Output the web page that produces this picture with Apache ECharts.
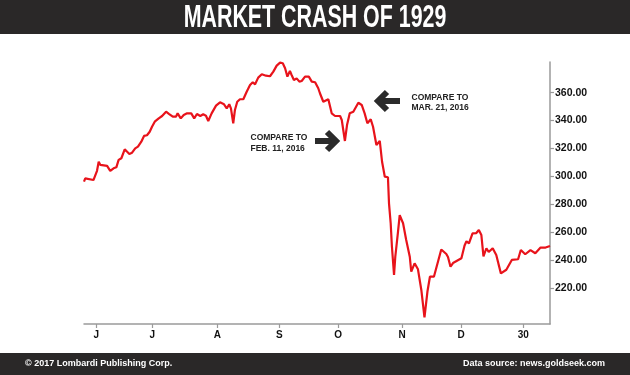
<!DOCTYPE html>
<html>
<head>
<meta charset="utf-8">
<script src="https://cdn.jsdelivr.net/npm/echarts@6/dist/echarts.min.js"></script>
<style>
  html, body { margin: 0; padding: 0; background: #fff; }
  #crash-container { width: 630px; height: 375px; }
</style>
</head>
<body>
<div id="crash-container"></div>
<script>
// trading-day index along the x axis (Jun - Dec 1929)
const days = [0, 0.6, 1.4, 4.5, 6.2, 7.0, 7.8, 11.0, 12.5, 14.1, 15.4, 16.5, 17.8, 19.4, 20.2, 21.6, 22.9, 24.4, 25.7, 27.3,
  28.6, 30.0, 31.3, 32.4, 33.7, 35.6, 37.2, 39.1, 40.6, 42.3, 43.8, 44.6, 46.1, 47.5, 49.1, 51.1, 52.5, 53.8, 55.4, 56.8,
  58.1, 59.2, 60.8, 62.9, 64.8, 66.7, 68.0, 69.2, 70.0, 71.1, 71.9, 73.0, 74.3, 75.9, 77.5, 79.1, 80.4, 81.5, 83.0, 84.7,
  86.7, 88.6, 90.2, 91.8, 93.4, 94.7, 95.8, 96.9, 98.1, 98.9, 100.0, 101.3, 102.6, 103.7, 105.3, 106.1, 107.1, 108.5, 110.1, 111.6,
  112.4, 114.0, 116.4, 118.0, 119.6, 122.0, 122.8, 124.3, 125.3, 126.6, 128.3, 130.7, 132.3, 133.7, 135.0, 136.6, 137.7, 139.3, 140.9, 142.0,
  143.3, 144.8, 145.3, 146.1, 146.7, 147.7, 148.3, 149.6, 150.4, 152.0, 153.5, 155.2, 155.9, 157.5, 159.1, 160.7, 162.2, 163.6, 164.8, 166.7,
  170.2, 172.6, 173.4, 174.6, 175.8, 179.8, 181.3, 182.2, 183.4, 185.1, 186.9, 188.1, 189.3, 190.3, 191.7, 192.8, 194.7, 196.4, 198.6, 201.2,
  203.8, 206.8, 208.1, 210.2, 212.7, 215.0, 217.5, 219.9, 222.0]
// Dow Jones Industrial Average close
const closes = [296.2, 298.6, 297.4, 297.4, 304.0, 310.5, 308.2, 307.5, 303.9, 305.8, 306.5, 311.8, 313.0, 319.4, 318.9, 316.1, 317.0, 320.1, 321.3, 324.9,
  329.0, 329.5, 332.0, 335.6, 339.2, 341.6, 343.3, 346.4, 344.7, 342.8, 342.8, 345.2, 341.6, 344.0, 345.2, 345.2, 341.6, 344.7, 343.3, 344.5,
  343.5, 339.7, 345.2, 350.7, 353.1, 351.7, 348.8, 351.7, 348.8, 338.1, 347.6, 353.5, 355.3, 355.3, 360.7, 365.5, 367.5, 366.0, 370.8, 373.2,
  372.2, 371.8, 375.1, 379.4, 381.5, 381.1, 377.5, 371.5, 375.6, 372.7, 369.1, 370.3, 367.9, 368.4, 371.5, 370.3, 371.5, 367.9, 367.5, 363.2,
  359.6, 353.5, 355.3, 345.2, 343.3, 343.3, 340.4, 325.4, 336.8, 345.2, 346.4, 352.8, 351.2, 345.2, 338.1, 340.9, 335.6, 322.5, 325.4, 310.5,
  299.8, 299.4, 280.7, 266.4, 249.6, 229.3, 242.4, 260.4, 272.3, 266.4, 254.4, 242.4, 231.7, 237.7, 233.4, 218.6, 198.9, 217.3, 228.1, 228.1,
  247.6, 244.4, 242.2, 235.3, 237.9, 241.3, 250.5, 253.5, 252.0, 259.2, 259.4, 261.6, 258.0, 242.6, 248.5, 245.8, 248.5, 243.7, 230.5, 233.1,
  240.1, 240.6, 247.2, 244.2, 247.2, 244.9, 249.0, 249.0, 250.1]

const monthTicks = [5.9, 32.5, 63.5, 93.0, 121.1, 151.6, 179.6, 209.3]
const monthLabels = ['J', 'J', 'A', 'S', 'O', 'N', 'D', '30']
const priceTicks = [220, 240, 260, 280, 300, 320, 340, 360]

const myChart = echarts.init(document.getElementById('crash-container'))

const axisColor = '#9a9a9a'
const labelFont = 'Liberation Sans, Arial, sans-serif'

function arrow (x1, x2, y, dir) {
  // shaft + chevron head, dir = 1 points right, -1 points left
  const tip = dir > 0 ? x2 : x1
  const back = tip - dir * 10
  return [
    {
      type: 'polyline',
      shape: { points: [[x1 + (dir < 0 ? 3 : 0), y], [x2 - (dir > 0 ? 3 : 0), y]] },
      style: { stroke: '#2b2b2b', lineWidth: 6, fill: null }
    },
    {
      type: 'polyline',
      shape: { points: [[back, y - 9], [tip - dir * 1, y], [back, y + 9]] },
      style: { stroke: '#2b2b2b', lineWidth: 6, fill: null, lineJoin: 'miter', lineCap: 'butt' }
    }
  ]
}

function note (x, y, lines) {
  return {
    type: 'text',
    x: x,
    y: y,
    style: {
      text: lines.join('\n'),
      fill: '#222',
      font: 'bold 8.5px ' + labelFont,
      lineHeight: 10.5,
      textAlign: 'left',
      textVerticalAlign: 'top'
    }
  }
}

const option = {
  animation: false,
  backgroundColor: '#fff',
  grid: {
    left: 84,
    right: 80,
    top: 62,
    bottom: 51,
    containLabel: false
  },
  xAxis: {
    type: 'value',
    min: 0,
    max: 222,
    splitLine: { show: false },
    axisLine: { onZero: false, lineStyle: { color: axisColor, width: 1.5 } },
    axisTick: {
      customValues: monthTicks,
      length: 4,
      lineStyle: { color: axisColor, width: 1.2 }
    },
    axisLabel: {
      customValues: monthTicks,
      margin: 6,
      color: '#111',
      fontFamily: labelFont,
      fontWeight: 'bold',
      fontSize: 10,
      formatter: function (v) {
        const i = monthTicks.findIndex(t => Math.abs(t - v) < 0.01)
        return i >= 0 ? monthLabels[i] : ''
      }
    }
  },
  yAxis: {
    type: 'value',
    position: 'right',
    min: 194.2,
    max: 382,
    splitLine: { show: false },
    axisLine: { show: true, onZero: false, lineStyle: { color: axisColor, width: 1.5 } },
    axisTick: {
      show: true,
      customValues: priceTicks,
      length: 4,
      lineStyle: { color: axisColor, width: 1.2 }
    },
    axisLabel: {
      customValues: priceTicks,
      margin: 5,
      color: '#111',
      fontFamily: labelFont,
      fontWeight: 'bold',
      fontSize: 10.5,
      formatter: function (v) {
        return v.toFixed(2)
      }
    }
  },
  series: [
    {
      name: 'DJIA',
      type: 'line',
      showSymbol: false,
      data: days.map((d, i) => [d, closes[i]]),
      lineStyle: { color: '#e8131b', width: 2.2 },
      itemStyle: { color: '#e8131b' }
    }
  ],
  graphic: [
    { type: 'rect', shape: { x: 0, y: 0, width: 630, height: 34 }, style: { fill: '#2a2828' } },
    {
      type: 'text',
      x: 315,
      y: 18,
      scaleX: 0.69,
      style: {
        text: 'MARKET CRASH OF 1929',
        fill: '#fff',
        font: 'bold 31px ' + labelFont,
        textAlign: 'center',
        textVerticalAlign: 'middle'
      }
    },
    { type: 'rect', shape: { x: 0, y: 353, width: 630, height: 22 }, style: { fill: '#2a2828' } },
    {
      type: 'text',
      x: 25,
      y: 364,
      style: {
        text: '© 2017 Lombardi Publishing Corp.',
        fill: '#fff',
        font: 'bold 9px ' + labelFont,
        textAlign: 'left',
        textVerticalAlign: 'middle'
      }
    },
    {
      type: 'text',
      x: 605,
      y: 364,
      style: {
        text: 'Data source: news.goldseek.com',
        fill: '#fff',
        font: 'bold 9px ' + labelFont,
        textAlign: 'right',
        textVerticalAlign: 'middle'
      }
    },
    note(250.5, 132.5, ['COMPARE TO', 'FEB. 11, 2016']),
    ...arrow(315, 337, 141, 1),
    note(411.5, 92, ['COMPARE TO', 'MAR. 21, 2016']),
    ...arrow(377, 400, 101, -1)
  ]
}

myChart.setOption(option)
</script>
</body>
</html>
